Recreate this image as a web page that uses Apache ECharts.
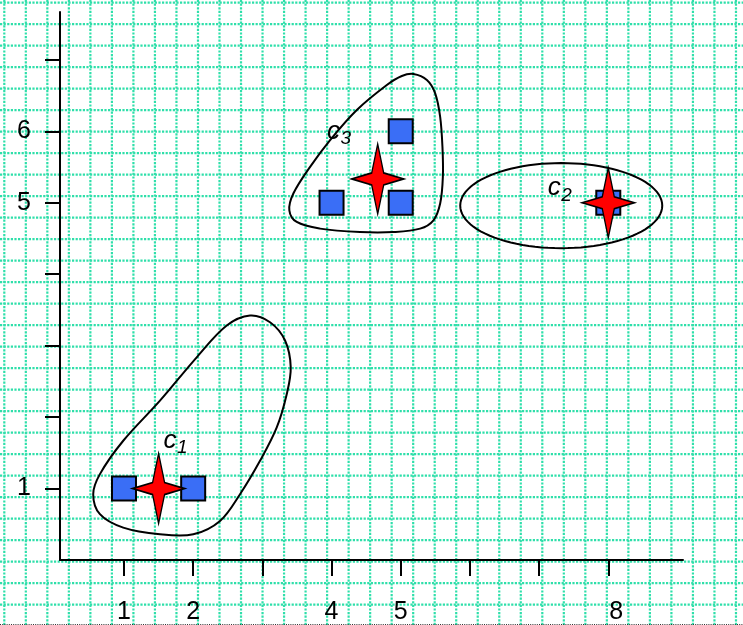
<!DOCTYPE html>
<html>
<head>
<meta charset="utf-8">
<script src="https://cdn.jsdelivr.net/npm/echarts@6/dist/echarts.min.js"></script>
<style>
  html, body { margin: 0; padding: 0; background: #fff; }
  #chart { width: 743px; height: 625px; }
</style>
</head>
<body>
<div id="chart"></div>
<script>
// Sample points
const pointsX = [1, 2, 4, 5, 5, 8];
const pointsY = [1, 1, 5, 5, 6, 5];

// Cluster centroids c1, c2, c3
const centroidX = [1.5, 8, 4.667];
const centroidY = [1, 5, 5.333];

// Where each cluster name is written
const clusterNames = ['1', '2', '3'];
const labelX = [1.665, 7.218, 4.027];
const labelY = [1.655, 5.189, 5.979];

// Outline drawn around cluster 1
const hull1X = [2.822, 3.111, 3.328, 3.410, 3.353, 3.208, 2.966, 2.677, 2.388, 2.002,
                1.520, 0.989, 0.652, 0.555, 0.652, 0.989, 1.520, 2.051, 2.485];
const hull1Y = [3.422, 3.328, 3.072, 2.697, 2.324, 1.856, 1.388, 0.921, 0.547, 0.360,
                0.360, 0.453, 0.641, 0.921, 1.202, 1.669, 2.230, 2.837, 3.282];

// Outline drawn around cluster 3
const hull3X = [5.184, 5.378, 5.498, 5.570, 5.603, 5.609, 5.570, 5.473, 5.280, 4.894,
                4.413, 3.834, 3.497, 3.390, 3.448, 3.690, 3.979, 4.365, 4.799, 5.016];
const hull3Y = [6.802, 6.718, 6.532, 6.203, 5.783, 5.362, 4.989, 4.755, 4.638, 4.590,
                4.590, 4.638, 4.731, 4.895, 5.129, 5.502, 5.877, 6.298, 6.648, 6.774];

// Ellipse around cluster 2: centre x, centre y, radius x, radius y
const ellipse2 = [7.32, 4.96, 1.46, 0.596];

// Axis ticks and labelled values
const xTicks = [1, 2, 3, 4, 5, 6, 7, 8];
const xTickLabels = [1, 2, 4, 5, 8];
const yTicks = [1, 2, 3, 4, 5, 6, 7];
const yTickLabels = [1, 5, 6];

const W = 743, H = 625;
const GRID_COLOR = '#2fdfaa';

// Dotted graph-paper background
const paper = [];
for (let x = 4.3; x < W; x += 21.52) {
  paper.push({ type: 'line', silent: true, z: -10,
    shape: { x1: x, y1: 0, x2: x, y2: H },
    style: { stroke: GRID_COLOR, lineWidth: 2.2, lineDash: [2.2, 1.4] } });
}
for (let y = 2.7; y < H; y += 21.5) {
  paper.push({ type: 'line', silent: true, z: -10,
    shape: { x1: 0, y1: y, x2: W, y2: y },
    style: { stroke: GRID_COLOR, lineWidth: 2.2, lineDash: [2.2, 1.4] } });
}
paper.push({ type: 'line', silent: true, z: -9,
  shape: { x1: 0, y1: 624.5, x2: W, y2: 624.5 },
  style: { stroke: '#333', lineWidth: 1, lineDash: [1, 1.2] } });

const FONT = '"Liberation Sans", Arial, sans-serif';
const STAR = 'path://M0,-35 L6,-6 L26,0 L6,6 L0,35 L-6,6 L-26,0 L-6,-6 Z';

function hullSeries(xs, ys) {
  return {
    type: 'custom',
    z: 1,
    data: [[xs[0], ys[0]]],
    renderItem: function (params, api) {
      const pts = xs.map((x, i) => api.coord([x, ys[i]]));
      return {
        type: 'polygon',
        shape: { points: pts, smooth: 0.35 },
        style: { fill: 'none', stroke: '#000', lineWidth: 2 }
      };
    }
  };
}

const option = {
  animation: false,
  backgroundColor: 'transparent',
  graphic: paper,
  grid: { left: 60, right: 60, top: 12, bottom: 65 },
  xAxis: {
    type: 'value',
    min: 0.075,
    max: 9.08,
    axisLine: { show: true, onZero: false, lineStyle: { color: '#000', width: 2 } },
    axisTick: { show: true, customValues: xTicks, length: 16, lineStyle: { color: '#000', width: 2 } },
    axisLabel: {
      customValues: xTickLabels, margin: 40, fontSize: 25, color: '#000', fontFamily: FONT,
      formatter: function (v) { return v === 8 ? '{r|' + v + '}' : String(v); },
      rich: { r: { fontSize: 25, fontFamily: FONT, color: '#000', padding: [0, 0, 0, 16] } }
    },
    splitLine: { show: false }
  },
  yAxis: {
    type: 'value',
    min: 0,
    max: 7.67,
    axisLine: { show: true, onZero: false, lineStyle: { color: '#000', width: 2 } },
    axisTick: { show: true, customValues: yTicks, length: 15, lineStyle: { color: '#000', width: 2 } },
    axisLabel: { customValues: yTickLabels, margin: 29, fontSize: 25, color: '#000', fontFamily: FONT },
    splitLine: { show: false }
  },
  series: [
    hullSeries(hull1X, hull1Y),
    hullSeries(hull3X, hull3Y),
    {
      type: 'custom',
      z: 1,
      data: [[ellipse2[0], ellipse2[1]]],
      renderItem: function (params, api) {
        const c = api.coord([ellipse2[0], ellipse2[1]]);
        const r = api.size([ellipse2[2], ellipse2[3]]);
        const pts = [];
        for (let i = 0; i < 96; i++) {
          const a = (i / 96) * Math.PI * 2;
          pts.push([c[0] + r[0] * Math.cos(a), c[1] + r[1] * Math.sin(a)]);
        }
        return {
          type: 'polygon',
          shape: { points: pts },
          style: { fill: 'none', stroke: '#000', lineWidth: 2 }
        };
      }
    },
    {
      type: 'scatter',
      z: 2,
      symbol: 'rect',
      symbolSize: 24,
      itemStyle: { color: '#3a6ef6', borderColor: '#000', borderWidth: 2, opacity: 1 },
      data: pointsX.map((x, i) => [x, pointsY[i]])
    },
    {
      type: 'scatter',
      z: 3,
      symbol: STAR,
      symbolSize: [52, 70],
      itemStyle: { color: '#ff0000', borderColor: '#000', borderWidth: 1.5, opacity: 1 },
      data: centroidX.map((x, i) => [x, centroidY[i]])
    },
    {
      type: 'custom',
      z: 4,
      data: labelX.map((x, i) => [x, labelY[i], i]),
      renderItem: function (params, api) {
        const p = api.coord([api.value(0), api.value(1)]);
        const idx = api.value(2);
        return {
          type: 'group',
          children: [
            { type: 'text', x: p[0], y: p[1] - 1,
              style: { text: 'c', font: 'italic 26px ' + FONT, fill: '#000',
                       align: 'center', verticalAlign: 'middle' } },
            { type: 'text', x: p[0] + 7, y: p[1] + 6,
              style: { text: clusterNames[idx], font: 'italic 19px ' + FONT, fill: '#000',
                       align: 'left', verticalAlign: 'middle' } }
          ]
        };
      }
    }
  ]
};

const chart = echarts.init(document.getElementById('chart'), null, { renderer: 'canvas' });
chart.setOption(option);
</script>
</body>
</html>
